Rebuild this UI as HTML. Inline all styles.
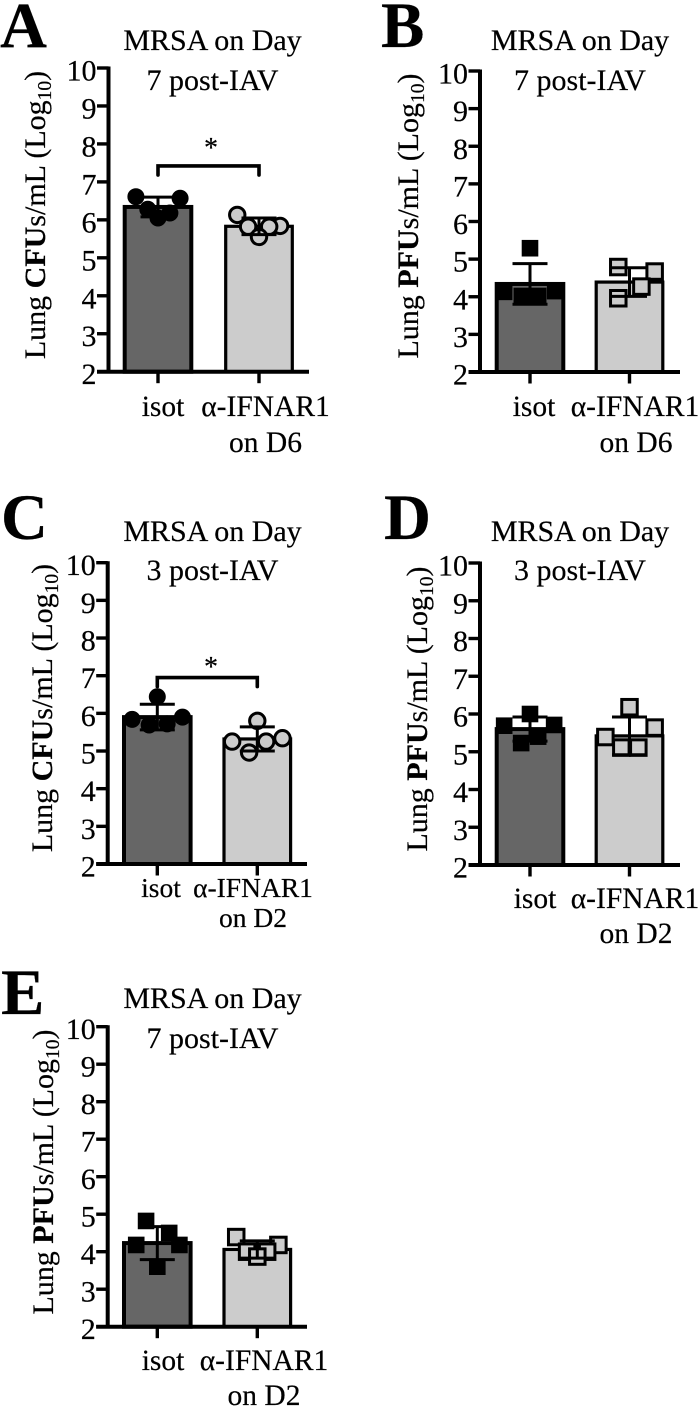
<!DOCTYPE html>
<html lang="en">
<head>
<meta charset="utf-8">
<title>Lung CFU and PFU bar charts</title>
<style>
html,body{margin:0;padding:0;background:#fff;}
svg{display:block;}
text{font-family:"Liberation Serif","DejaVu Serif",serif;fill:#000;stroke:#000;stroke-width:.2px;}
.letter{font-size:65px;font-weight:bold;}
.title{font-size:30px;text-anchor:middle;}
.ytitle{font-size:30px;text-anchor:middle;}
.xl{font-size:29.5px;text-anchor:middle;}
.xs{font-size:27.5px;text-anchor:middle;}
.tick{font-size:30px;text-anchor:end;}
.star{font-size:28px;text-anchor:middle;}
</style>
</head>
<body>
<svg id="fig" xmlns="http://www.w3.org/2000/svg" width="700" height="1407" viewBox="0 0 700 1407">
<rect width="700" height="1407" fill="#fff"/>
<g id="marks"></g>

<text class="letter" x="0" y="47">A</text>
<text class="title" x="212.5" y="50">MRSA on Day</text>
<text class="title" x="212.5" y="90">7 post-IAV</text>
<text class="ytitle" transform="translate(45,215) rotate(-90)">Lung <tspan font-weight="bold">CFU</tspan>s/mL (Log<tspan font-size="19.5" dy="6">10</tspan><tspan dy="-6">)</tspan></text>
<text class="xl" x="163" y="416">isot</text>
<text class="xl" x="265.5" y="416">α-IFNAR1</text>
<text class="xl" x="265.5" y="452">on D6</text>
<text class="star" x="211" y="157">*</text>

<text class="letter" x="381" y="47">B</text>
<text class="title" x="580" y="50">MRSA on Day</text>
<text class="title" x="580" y="90">7 post-IAV</text>
<text class="ytitle" transform="translate(418,216) rotate(-90)">Lung <tspan font-weight="bold">PFU</tspan>s/mL (Log<tspan font-size="19.5" dy="6">10</tspan><tspan dy="-6">)</tspan></text>
<text class="xl" x="534" y="416">isot</text>
<text class="xl" x="635" y="416">α-IFNAR1</text>
<text class="xl" x="636" y="452">on D6</text>

<text class="letter" x="1" y="539">C</text>
<text class="title" x="212.5" y="541">MRSA on Day</text>
<text class="title" x="212.5" y="580">3 post-IAV</text>
<text class="ytitle" transform="translate(52,708) rotate(-90)">Lung <tspan font-weight="bold">CFU</tspan>s/mL (Log<tspan font-size="19.5" dy="6">10</tspan><tspan dy="-6">)</tspan></text>
<text class="xs" x="161" y="897">isot</text>
<text class="xs" x="253" y="897">α-IFNAR1</text>
<text class="xs" x="253" y="927">on D2</text>
<text class="star" x="211" y="676">*</text>

<text class="letter" x="384" y="539">D</text>
<text class="title" x="580" y="541">MRSA on Day</text>
<text class="title" x="580" y="580">3 post-IAV</text>
<text class="ytitle" transform="translate(427,709) rotate(-90)">Lung <tspan font-weight="bold">PFU</tspan>s/mL (Log<tspan font-size="19.5" dy="6">10</tspan><tspan dy="-6">)</tspan></text>
<text class="xl" x="535" y="908">isot</text>
<text class="xl" x="635" y="908">α-IFNAR1</text>
<text class="xl" x="636" y="943">on D2</text>

<text class="letter" x="1" y="1014">E</text>
<text class="title" x="212.5" y="1008">MRSA on Day</text>
<text class="title" x="212.5" y="1048">7 post-IAV</text>
<text class="ytitle" transform="translate(53,1172) rotate(-90)">Lung <tspan font-weight="bold">PFU</tspan>s/mL (Log<tspan font-size="19.5" dy="6">10</tspan><tspan dy="-6">)</tspan></text>
<text class="xl" x="163" y="1370">isot</text>
<text class="xl" x="264" y="1370">α-IFNAR1</text>
<text class="xl" x="264" y="1405">on D2</text>
</svg>

<script>
// Shared axis data
const tickValues = [2, 3, 4, 5, 6, 7, 8, 9, 10];
const yMin = 2;
const yMax = 10;

// Panel A (log10 CFU/mL)
const panelAMeans = [6.34, 5.83];
const panelASd = [0.26, 0.22];
const panelAIsotValues = [6.61, 6.57, 6.28, 6.18, 6.05];
const panelAIsotSpread = [-0.65, 0.65, -0.3, 0.35, 0];
const panelAAntiValues = [6.13, 5.82, 5.84, 5.82, 5.55];
const panelAAntiSpread = [-0.64, -0.32, 0.62, 0.3, 0];
const panelABracket = [7.42];

// Panel B (log10 PFU/mL)
const panelBMeans = [4.34, 4.39];
const panelBSd = [0.54, 0.38];
const panelBIsotValues = [5.29, 4.13, 4.15, 4.02, 4.02];
const panelBIsotSpread = [0, -0.76, 0.74, -0.24, 0.24];
const panelBAntiValues = [4.79, 4.67, 4.27, 3.96];
const panelBAntiSpread = [-0.33, 0.74, 0.35, -0.33];

// Panel C (log10 CFU/mL)
const panelCMeans = [5.9, 5.32];
const panelCSd = [0.34, 0.32];
const panelCIsotValues = [6.44, 5.84, 5.9, 5.69, 5.72];
const panelCIsotSpread = [0, -0.74, 0.74, -0.24, 0.29];
const panelCAntiValues = [5.8, 5.25, 5.34, 5.25, 4.96];
const panelCAntiSpread = [0, -0.74, 0.74, 0.26, -0.24];
const panelCBracket = [6.95];

// Panel D (log10 PFU/mL)
const panelDMeans = [5.6, 5.42];
const panelDSd = [0.32, 0.5];
const panelDIsotValues = [6.0, 5.69, 5.71, 5.4, 5.23];
const panelDIsotSpread = [0, -0.76, 0.71, 0.24, -0.26];
const panelDAntiValues = [6.18, 5.39, 5.64, 5.11, 5.11];
const panelDAntiSpread = [0, -0.71, 0.74, -0.24, 0.26];

// Panel E (log10 PFU/mL)
const panelEMeans = [4.23, 4.06];
const panelESd = [0.44, 0.23];
const panelEIsotValues = [4.82, 4.5, 4.18, 4.18, 3.6];
const panelEIsotSpread = [-0.33, 0.35, -0.62, 0.65, 0];
const panelEAntiValues = [4.39, 4.18, 4.0, 4.0, 3.87];
const panelEAntiSpread = [-0.62, 0.62, -0.3, 0.29, 0];

const NS = 'http://www.w3.org/2000/svg';
const root = document.getElementById('marks');

function shape(tag, attrs, parent) {
  const node = document.createElementNS(NS, tag);
  Object.keys(attrs).forEach(function (k) { node.setAttribute(k, attrs[k]); });
  parent.appendChild(node);
  return node;
}

function line(x1, y1, x2, y2, w, parent) {
  return shape('line', { x1: x1, y1: y1, x2: x2, y2: y2, stroke: '#000', 'stroke-width': w }, parent);
}

function drawPanel(id, box, means, sd, groups, shapeKind, bracket) {
  const yScale = function (v) { return box.bottom - (v - yMin) / (yMax - yMin) * (box.bottom - box.top); };
  const halfBar = 33.3;
  const capHalf = 17.5;
  const spreadUnit = 34;

  const g = shape('g', {}, root);
  
  

  // bars
  means.forEach(function (m, i) {
    const bar = shape('rect', {
      x: box.centers[i] - halfBar, y: yScale(m), width: halfBar * 2, height: box.bottom - yScale(m),
      fill: i === 0 ? '#666666' : '#cccccc', stroke: '#000', 'stroke-width': i === 0 ? 4 : 3.2
    }, g);
    
    
  });

  // points
  groups.forEach(function (group, i) {
    group.values.forEach(function (v, j) {
      const cx = box.centers[i] + group.spread[j] * spreadUnit;
      const cy = yScale(v);
      const fill = i === 0 ? '#000' : '#cccccc';
      let mark;
      if (shapeKind === 'circle') {
        mark = shape('circle', { cx: cx, cy: cy, r: i === 0 ? 8 : 7.7, fill: fill, stroke: '#000', 'stroke-width': i === 0 ? 1 : 3 }, g);
      } else {
        const size = i === 0 ? 15.6 : 15.5;
        mark = shape('rect', { x: cx - size / 2, y: cy - size / 2, width: size, height: size, fill: fill, stroke: '#000', 'stroke-width': i === 0 ? 1 : 3 }, g);
      }
      
      
    });
  });

  // error bars
  means.forEach(function (m, i) {
    const c = box.centers[i];
    const hi = yScale(m + sd[i]);
    const lo = yScale(m - sd[i]);
    const err = shape('g', {}, g);
    
    
    line(c, hi, c, lo, 3, err);
    line(c - capHalf, hi, c + capHalf, hi, 3, err);
    line(c - capHalf, lo, c + capHalf, lo, 3, err);
  });

  // axes
  const yAxis = line(box.axisX, box.top - 1.5, box.axisX, box.bottom + 1.5, 4, g);
  
  

  const xAxis = line(box.axisX - 11.5, box.bottom, box.right, box.bottom, 4, g);
  
  

  tickValues.forEach(function (t) {
    const y = yScale(t);
    const tk = line(box.axisX - 11.5, y, box.axisX, y, 3.4, g);
    
    

    const label = shape('text', { x: box.axisX - 12, y: y + 12.5, class: 'tick' }, g);
    label.textContent = String(t);
    
    
  });

  box.centers.forEach(function (c) {
    const tk = line(c, box.bottom, c, box.bottom + 11.5, 3.4, g);
    
    
  });

  // significance bracket
  if (bracket) {
    const by = yScale(bracket[0]);
    const br = shape('path', {
      d: 'M' + box.centers[0] + ' ' + (by + 9) + 'V' + by + 'H' + box.centers[1] + 'V' + (by + 9),
      fill: 'none', stroke: '#000', 'stroke-width': 3.6, 'stroke-linecap': 'round'
    }, g);
    
    
  }
}

drawPanel('a', { axisX: 108.5, top: 68, bottom: 371.7, right: 309, centers: [158, 259] },
  panelAMeans, panelASd,
  [{ values: panelAIsotValues, spread: panelAIsotSpread }, { values: panelAAntiValues, spread: panelAAntiSpread }],
  'circle', panelABracket);

drawPanel('b', { axisX: 480, top: 71, bottom: 372, right: 680, centers: [530, 629.5] },
  panelBMeans, panelBSd,
  [{ values: panelBIsotValues, spread: panelBIsotSpread }, { values: panelBAntiValues, spread: panelBAntiSpread }],
  'square', null);

drawPanel('c', { axisX: 107.7, top: 562.7, bottom: 864, right: 307, centers: [157.3, 257.3] },
  panelCMeans, panelCSd,
  [{ values: panelCIsotValues, spread: panelCIsotSpread }, { values: panelCAntiValues, spread: panelCAntiSpread }],
  'circle', panelCBracket);

drawPanel('d', { axisX: 480, top: 563, bottom: 865, right: 680, centers: [530, 629.5] },
  panelDMeans, panelDSd,
  [{ values: panelDIsotValues, spread: panelDIsotSpread }, { values: panelDAntiValues, spread: panelDAntiSpread }],
  'square', null);

drawPanel('e', { axisX: 107.7, top: 1026.7, bottom: 1326.7, right: 307, centers: [157.3, 257.3] },
  panelEMeans, panelESd,
  [{ values: panelEIsotValues, spread: panelEIsotSpread }, { values: panelEAntiValues, spread: panelEAntiSpread }],
  'square', null);
</script>
</body>
</html>
